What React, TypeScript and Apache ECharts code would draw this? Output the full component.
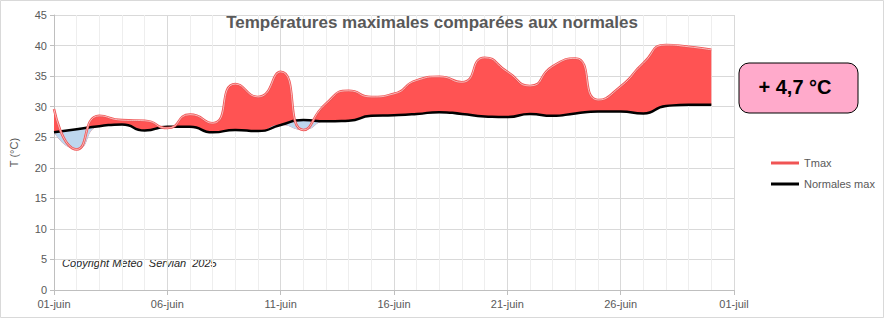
import React, { useEffect, useRef } from "react";
import * as echarts from "echarts";

const tickLabels = ["01-juin", "06-juin", "11-juin", "16-juin", "21-juin", "26-juin", "01-juil"];
const tmax = [29.6, 23.0, 28.5, 27.8, 27.7, 26.5, 28.7, 27.3, 33.7, 31.6, 35.7, 26.2, 30.5, 32.6, 31.6, 32.1, 34.3, 34.9, 34.0, 38.0, 35.7, 33.4, 36.6, 37.9, 31.1, 33.3, 37.1, 40.1, 39.8, 39.3];
const normales = [25.8, 26.3, 26.8, 27.1, 26.1, 26.7, 26.7, 25.8, 26.2, 26.0, 27.0, 27.8, 27.6, 27.7, 28.5, 28.6, 28.8, 29.1, 28.8, 28.4, 28.3, 28.8, 28.5, 28.9, 29.2, 29.2, 28.9, 30.1, 30.3, 30.3];
const ecart = "+ 4,7 °C";
const copyright = "Copyright Météo  Servian  2025";
const title = "Températures maximales comparées aux normales";

const FONT = "Liberation Sans";
const SMOOTH = 0.6;

export default function App() {
  const ref = useRef<HTMLDivElement>(null);
  useEffect(() => {
    const chart = echarts.init(ref.current!, null, { renderer: "svg" });
    const dayCats = Array.from({ length: 31 }, (_, i) => String(i + 1));
    const lower = tmax.map((t, i) => Math.min(t, normales[i]));
    const redDiff = tmax.map((t, i) => Math.max(t - normales[i], 0));
    const blueDiff = tmax.map((t, i) => Math.max(normales[i] - t, 0));
    const hidden = { lineStyle: { opacity: 0 }, symbol: "none", silent: true, xAxisIndex: 1 };
    chart.setOption({
      animation: false,
      backgroundColor: "#ffffff",
      title: {
        text: title,
        left: 427,
        textAlign: "center",
        top: 9,
        textStyle: { fontFamily: FONT, fontSize: 17, fontWeight: "bold", color: "#595959" },
      },
      grid: { left: 44, right: 150, top: 15, bottom: 28, containLabel: false },
      legend: {
        data: ["Tmax", "Normales max"],
        orient: "vertical",
        left: 766,
        top: 151,
        itemWidth: 28,
        itemHeight: 3,
        itemGap: 7,
        icon: "rect",
        textStyle: { fontFamily: FONT, fontSize: 11, color: "#595959", lineHeight: 14 },
      },
      xAxis: [
        {
          type: "value",
          min: 0,
          max: 30,
          interval: 5,
          axisLine: { show: true, lineStyle: { color: "#bfbfbf" } },
          axisTick: { show: true, length: 5, lineStyle: { color: "#bfbfbf" } },
          axisLabel: {
            fontFamily: FONT,
            fontSize: 11,
            color: "#595959",
            margin: 8,
            formatter: (v: number) => tickLabels[Math.round(v / 5)] ?? "",
          },
          splitLine: { show: true, lineStyle: { color: "#d9d9d9" } },
          minorTick: { show: false, splitNumber: 5 },
          minorSplitLine: { show: true, lineStyle: { color: "#eeeeee" } },
        },
        {
          type: "category",
          data: dayCats,
          boundaryGap: false,
          show: false,
          position: "bottom",
        },
      ],
      yAxis: {
        type: "value",
        min: 0,
        max: 45,
        interval: 5,
        name: "T (°C)",
        nameLocation: "middle",
        nameGap: 35,
        nameTextStyle: { fontFamily: FONT, fontSize: 11, color: "#595959" },
        axisLine: { show: true, lineStyle: { color: "#bfbfbf" } },
        axisTick: { show: true, length: 4, lineStyle: { color: "#bfbfbf" } },
        axisLabel: { fontFamily: FONT, fontSize: 11, color: "#595959", margin: 7 },
        splitLine: { show: true, lineStyle: { color: "#d9d9d9" } },
      },
      series: [
        { name: "base1", type: "line", stack: "a", smooth: SMOOTH, data: lower, ...hidden },
        {
          name: "ecartPlus",
          type: "line",
          stack: "a",
          smooth: SMOOTH,
          data: redDiff,
          ...hidden,
          areaStyle: { color: "#ff5353", opacity: 1 },
        },
        { name: "base2", type: "line", stack: "b", smooth: SMOOTH, data: lower, ...hidden },
        {
          name: "ecartMoins",
          type: "line",
          stack: "b",
          smooth: SMOOTH,
          data: blueDiff,
          ...hidden,
          areaStyle: { color: "#bdd7ee", opacity: 1 },
        },
        {
          name: "Normales max",
          type: "line",
          xAxisIndex: 1,
          smooth: SMOOTH,
          data: normales,
          symbol: "none",
          itemStyle: { color: "#000000" },
          lineStyle: { color: "#000000", width: 2.5 },
        },
        {
          name: "Tmax",
          type: "line",
          xAxisIndex: 1,
          smooth: SMOOTH,
          data: tmax,
          symbol: "none",
          itemStyle: { color: "#f05454" },
          lineStyle: { color: "#f05454", width: 2.5 },
        },
        {
          name: "TmaxInner",
          type: "line",
          xAxisIndex: 1,
          smooth: SMOOTH,
          data: tmax,
          symbol: "none",
          silent: true,
          lineStyle: { color: "#ffffff", width: 0.7, opacity: 0.85 },
        },
      ],
      graphic: [
        {
          type: "rect",
          z: -10,
          shape: { x: 0.5, y: 0.5, width: 883, height: 317 },
          style: { fill: "none", stroke: "#d9d9d9", lineWidth: 1 },
        },
        {
          type: "text",
          x: 62,
          y: 263,
          style: {
            text: copyright,
            font: `italic 11px '${FONT}'`,
            fill: "#262626",
            verticalAlign: "middle",
          },
        },
        {
          type: "rect",
          shape: { x: 739, y: 63, width: 119, height: 50, r: 10 },
          style: { fill: "#ffaacb", stroke: "#000000", lineWidth: 1 },
        },
        {
          type: "text",
          x: 795,
          y: 87,
          style: {
            text: ecart,
            font: `bold 20px '${FONT}'`,
            fill: "#000000",
            align: "center",
            verticalAlign: "middle",
          },
        },
      ],
    });
    return () => chart.dispose();
  }, []);
  return <div ref={ref} style={{ position: "fixed", left: 0, top: 0, width: 884, height: 318 }} />;
}
